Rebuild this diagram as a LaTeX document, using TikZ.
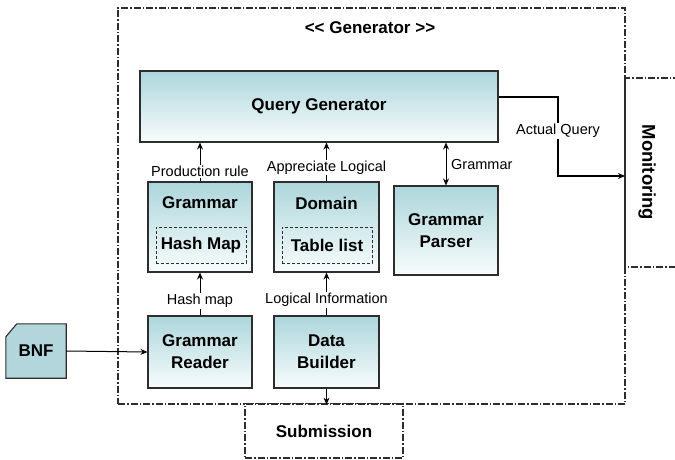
\documentclass[tikz,border=0pt]{standalone}
\usepackage{fontspec}
\setmainfont{Liberation Sans}
\usetikzlibrary{arrows.meta,backgrounds}

\definecolor{tealtop}{RGB}{172,214,219}
\definecolor{tealbot}{RGB}{248,252,252}
\definecolor{bnfteal}{RGB}{178,214,219}
\definecolor{edge}{RGB}{45,45,45}

\tikzset{
  x=1pt, y=-1pt,
  module/.style={draw=edge, line width=1.1pt, top color=tealtop, bottom color=tealbot,
    shading angle=0, inner sep=0pt, align=center,
    font=\fontsize{17}{20}\selectfont\bfseries},
  inner/.style={draw=edge, line width=0.8pt, dash pattern=on 3pt off 2pt,
    inner sep=0pt, font=\fontsize{17}{20}\selectfont\bfseries},
  frame/.style={draw=edge, line width=1.2pt, dash pattern=on 7pt off 2pt on 1.5pt off 2pt,
    inner sep=0pt},
  lbl/.style={fill=white, inner sep=1pt, font=\fontsize{14.5}{16}\selectfont},
  bold17/.style={font=\fontsize{17}{20}\selectfont\bfseries},
  conn/.style={draw=black, line width=1pt, -{Stealth[length=7pt,width=6pt]}},
}

\begin{document}
\begin{tikzpicture}
\useasboundingbox (0,0) rectangle (675,460);

% outer generator frame and external actors
\node[frame, minimum width=507pt, minimum height=396pt] (gen) at (371.5,206) {};
\node[bold17] (gentitle) at (370,28) {<\kern0pt< Generator >\kern0pt>};
\node[frame, fill=white, minimum width=158pt, minimum height=54pt, bold17] (sub) at (324,431) {Submission};

% monitoring actor, open to the right
\coordinate (mtl) at (625,78);
\coordinate (mbl) at (625,267);
\draw[frame] (680,78) -- (mtl) -- (mbl) -- (680,267);
\node[font=\fontsize{18.5}{20}\selectfont\bfseries, rotate=-90] (mon) at (647,172.5) {Monitoring};

% modules
\node[module, minimum width=358pt, minimum height=71pt] (qg) at (319,106.5) {Query Generator};

\node[module, minimum width=104pt, minimum height=90pt] (gram) at (200,227) {};
\node[bold17] (gramt) at (200,203) {Grammar};
\node[inner, minimum width=90pt, minimum height=36pt] (hash) at (201,245) {Hash Map};

\node[module, minimum width=105pt, minimum height=90pt] (dom) at (326.5,227) {};
\node[bold17] (domt) at (326.5,203) {Domain};
\node[inner, minimum width=90pt, minimum height=36pt] (tab) at (327,245) {Table list};

\node[module, minimum width=104pt, minimum height=89pt] (parser) at (446,230.5) {Grammar\\[2pt]Parser};

\node[module, minimum width=104pt, minimum height=72pt] (reader) at (200,352) {Grammar\\[2pt]Reader};
\node[module, minimum width=105pt, minimum height=72pt] (builder) at (326.5,352) {Data\\[2pt]Builder};

% BNF input document with a cut corner
\node[bold17, minimum width=60pt, minimum height=54pt, inner sep=0pt] (bnf) at (36,351) {BNF};
\begin{scope}[on background layer]
  \draw[draw=edge, line width=1.1pt, fill=bnfteal]
    ([yshift=-13pt]bnf.north west) -- ([xshift=11pt]bnf.north west) -- (bnf.north east)
    -- (bnf.south east) -- (bnf.south west) -- cycle;
\end{scope}

% connectors
\draw[conn] (gram.north) -- (gram.north |- qg.south)
  node[lbl, pos=0.25] (l1) {Production rule};
\draw[conn] (dom.north) -- (dom.north |- qg.south)
  node[lbl, pos=0.36] (l2) {Appreciate Logical};
\draw[conn, {Stealth[length=7pt,width=6pt]}-{Stealth[length=7pt,width=6pt]}]
  (qg.south -| parser.north) -- (parser.north);
\node[lbl, anchor=west] (l3) at (450,165) {Grammar};

\draw[conn] (reader.north) -- (gram.south)
  node[lbl, pos=0.34] (l4) {Hash map};
\draw[conn] (builder.north) -- (dom.south)
  node[lbl, pos=0.36] (l5) {Logical Information};

\draw[conn] (bnf.east) -- (reader.west);
\draw[conn] (builder.south) -- (builder.south |- gen.south);

\coordinate (aqs) at (qg.east |- 0,97);
\coordinate (aqk) at (558,97);
\draw[conn, line width=1.4pt] (aqs) -- (aqk) -- (aqk |- 0,176) -- (mtl |- 0,176);
\node[lbl] (l6) at (558,131) {Actual Query};
\end{tikzpicture}
\end{document}
